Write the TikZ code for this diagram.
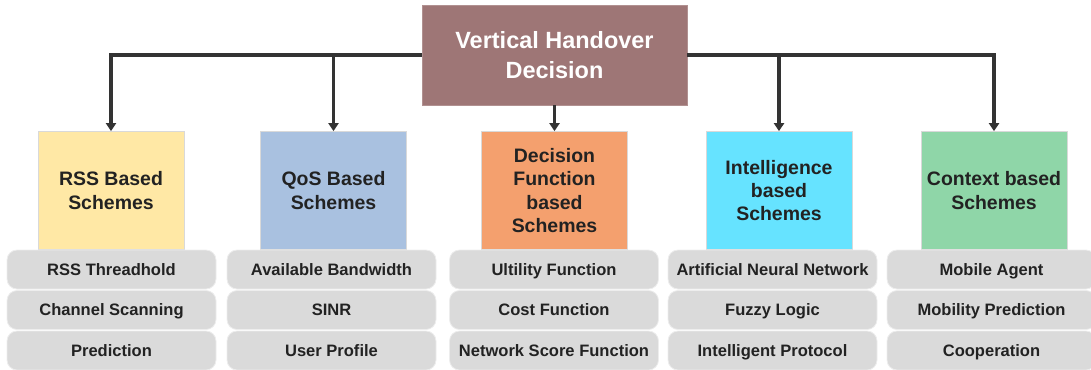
\documentclass[tikz,border=0pt]{standalone}
\usepackage{fontspec}
\setmainfont{Liberation Sans}
\usetikzlibrary{arrows.meta}

\definecolor{rootfill}{HTML}{9E7676}
\definecolor{rssfill}{HTML}{FFE8A5}
\definecolor{qosfill}{HTML}{A9C1E0}
\definecolor{decfill}{HTML}{F4A06E}
\definecolor{intfill}{HTML}{66E3FF}
\definecolor{ctxfill}{HTML}{8FD6A8}
\definecolor{itemfill}{HTML}{DADADA}
\definecolor{linecol}{HTML}{333333}
\definecolor{txt}{HTML}{222222}

\tikzset{
  root/.style={fill=rootfill, draw=rootfill!80!white, line width=0.6pt,
    minimum width=198.75pt, minimum height=75pt, align=center,
    text=white, font=\bfseries\fontsize{17.6}{22.5}\selectfont},
  scheme/.style={draw=white!85!black, line width=0.5pt,
    minimum width=109.5pt, minimum height=88.5pt, align=center,
    text=txt, font=\bfseries\fontsize{14.6}{17.4}\selectfont},
  item/.style={fill=itemfill, draw=white!93!black, line width=0.6pt,
    rounded corners=7.5pt, minimum width=156.75pt, minimum height=29.25pt,
    text height=10.5pt, text depth=1.6pt, inner sep=2pt,
    text=txt, font=\bfseries\fontsize{12.4}{15}\selectfont},
  link/.style={draw=linecol, line width=2.3pt,
    -{Triangle[length=6pt,width=7.5pt]}},
}

\begin{document}
\begin{tikzpicture}[x=0.75pt, y=-0.75pt]
  \clip (0,0) rectangle (1091,369);
  \useasboundingbox (0,0) rectangle (1091,369);

  % root decision
  \node[root] (top) at (554.5,55) {Vertical Handover\\Decision};

  % scheme categories
  \node[scheme, fill=rssfill] (rss) at (111,190.5) {RSS Based\\Schemes};
  \node[scheme, fill=qosfill] (qos) at (333.5,190.5) {QoS Based\\Schemes};
  \node[scheme, fill=decfill] (dec) at (554.5,190.5) {Decision\\Function\\based\\Schemes};
  \node[scheme, fill=intfill] (int) at (779,190.5) {Intelligence\\based\\Schemes};
  \node[scheme, fill=ctxfill] (ctx) at (994,190.5) {Context based\\Schemes};

  % connectors
  \draw[link] (top.west) -| (rss.north);
  \draw[link] (top.west) -| (qos.north);
  \draw[link] (top.south) -- (dec.north);
  \draw[link] (top.east) -| (int.north);
  \draw[link] (top.east) -| (ctx.north);

  % items under each category
  \node[item] (r1) at (111.5,269.5) {RSS Threadhold};
  \node[item] (r2) at (111.5,310) {Channel Scanning};
  \node[item] (r3) at (111.5,350.5) {Prediction};

  \node[item] (q1) at (331.5,269.5) {Available Bandwidth};
  \node[item] (q2) at (331.5,310) {SINR};
  \node[item] (q3) at (331.5,350.5) {User Profile};

  \node[item] (d1) at (554,269.5) {Ultility Function};
  \node[item] (d2) at (554,310) {Cost Function};
  \node[item] (d3) at (554,350.5) {Network Score Function};

  \node[item] (i1) at (772.5,269.5) {Artificial Neural Network};
  \node[item] (i2) at (772.5,310) {Fuzzy Logic};
  \node[item] (i3) at (772.5,350.5) {Intelligent Protocol};

  \node[item] (c1) at (991.5,269.5) {Mobile Agent};
  \node[item] (c2) at (991.5,310) {Mobility Prediction};
  \node[item] (c3) at (991.5,350.5) {Cooperation};
\end{tikzpicture}
\end{document}
